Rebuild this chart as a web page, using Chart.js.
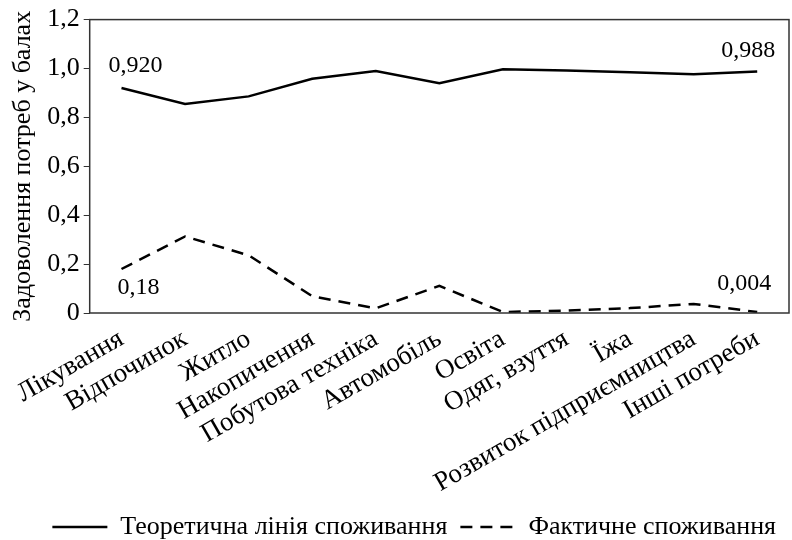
<!DOCTYPE html>
<html>
<head>
<meta charset="utf-8">
<script src="https://cdn.jsdelivr.net/npm/chart.js@4.4.0/dist/chart.umd.min.js"></script>
<style>
  html, body { margin: 0; padding: 0; background: #fff; }
  #wrap { width: 792px; height: 540px; }
</style>
</head>
<body>
<div id="wrap"><canvas id="myChart"></canvas></div>
<script>
const categories = [
  "Лікування", "Відпочинок", "Житло", "Накопичення", "Побутова техніка",
  "Автомобіль", "Освіта", "Одяг, взуття", "Їжа", "Розвиток підприємництва", "Інші потреби"
];
const theoretical = [0.920, 0.855, 0.886, 0.958, 0.990, 0.940, 0.997, 0.992, 0.985, 0.976, 0.988];
const actual = [0.18, 0.313, 0.236, 0.069, 0.019, 0.111, 0.004, 0.010, 0.020, 0.037, 0.004];
const yTicks = [0, 0.2, 0.4, 0.6, 0.8, 1.0, 1.2];
// value labels: [dataset, index, text, dx, dy]
const pointLabels = [
  [0, 0, "0,920", 14, -22],
  [0, 10, "0,988", -9, -21],
  [1, 0, "0,18", 17, 19],
  [1, 10, "0,004", -13, -28]
];

const serif = "'Liberation Serif', 'DejaVu Serif', serif";

const frameAndLabels = {
  id: "frameAndLabels",
  afterDatasetsDraw(chart) {
    const { ctx, chartArea, scales } = chart;
    ctx.save();
    ctx.strokeStyle = "#333";
    ctx.lineWidth = 1.5;
    ctx.strokeRect(chartArea.left, chartArea.top, chartArea.right - chartArea.left, chartArea.bottom - chartArea.top);
    ctx.fillStyle = "#000";
    ctx.font = "24px " + serif;
    ctx.textAlign = "center";
    ctx.textBaseline = "middle";
    pointLabels.forEach(([ds, i, txt, dx, dy]) => {
      const data = ds === 0 ? theoretical : actual;
      const x = scales.x.getPixelForValue(i);
      const y = scales.y.getPixelForValue(data[i]);
      ctx.fillText(txt, x + dx, y + dy);
    });
    ctx.restore();
  }
};

new Chart(document.getElementById("myChart"), {
  type: "line",
  data: {
    labels: categories,
    datasets: [
      {
        label: "Теоретична лінія споживання",
        data: theoretical,
        borderColor: "#000",
        backgroundColor: "#000",
        borderWidth: 2.5,
        pointRadius: 0,
        tension: 0
      },
      {
        label: "Фактичне споживання",
        data: actual,
        borderColor: "#000",
        backgroundColor: "#000",
        borderWidth: 2.5,
        borderDash: [12, 8],
        pointRadius: 0,
        tension: 0
      }
    ]
  },
  options: {
    responsive: true,
    maintainAspectRatio: false,
    animation: false,
    layout: { padding: { left: 4, right: 3, top: 6, bottom: -10 } },
    plugins: {
      tooltip: { enabled: false },
      legend: {
        display: true,
        position: "bottom",
        align: "end",
        labels: {
          color: "#000",
          font: { family: serif, size: 26 },
          usePointStyle: true,
          pointStyle: "line",
          pointStyleWidth: 55,
          boxHeight: 10,
          padding: 13,
          generateLabels(chart) {
            const items = Chart.defaults.plugins.legend.labels.generateLabels(chart);
            items.forEach((it, i) => { it.lineDash = chart.data.datasets[i].borderDash || []; });
            return items;
          }
        }
      }
    },
    scales: {
      x: {
        offset: true,
        border: { display: false },
        grid: { display: false },
        afterFit(scale) {
          scale.height = 188;
        },
        ticks: {
          color: "#000",
          font: { family: serif, size: 27 },
          maxRotation: 30,
          minRotation: 30,
          autoSkip: false,
          padding: 2
        }
      },
      y: {
        min: 0,
        max: 1.2,
        border: { display: false },
        grid: { drawOnChartArea: false, drawTicks: true, tickLength: 6, color: "#333" },
        afterBuildTicks(scale) {
          scale.ticks = yTicks.map(v => ({ value: v }));
        },
        ticks: {
          color: "#000",
          font: { family: serif, size: 26 },
          padding: 4,
          callback: v => v === 0 ? "0" : v.toFixed(1).replace(".", ",")
        },
        title: {
          display: true,
          text: "Задоволення потреб у балах",
          color: "#000",
          font: { family: serif, size: 26 },
          padding: 4
        }
      }
    }
  },
  plugins: [frameAndLabels]
});
</script>
</body>
</html>
